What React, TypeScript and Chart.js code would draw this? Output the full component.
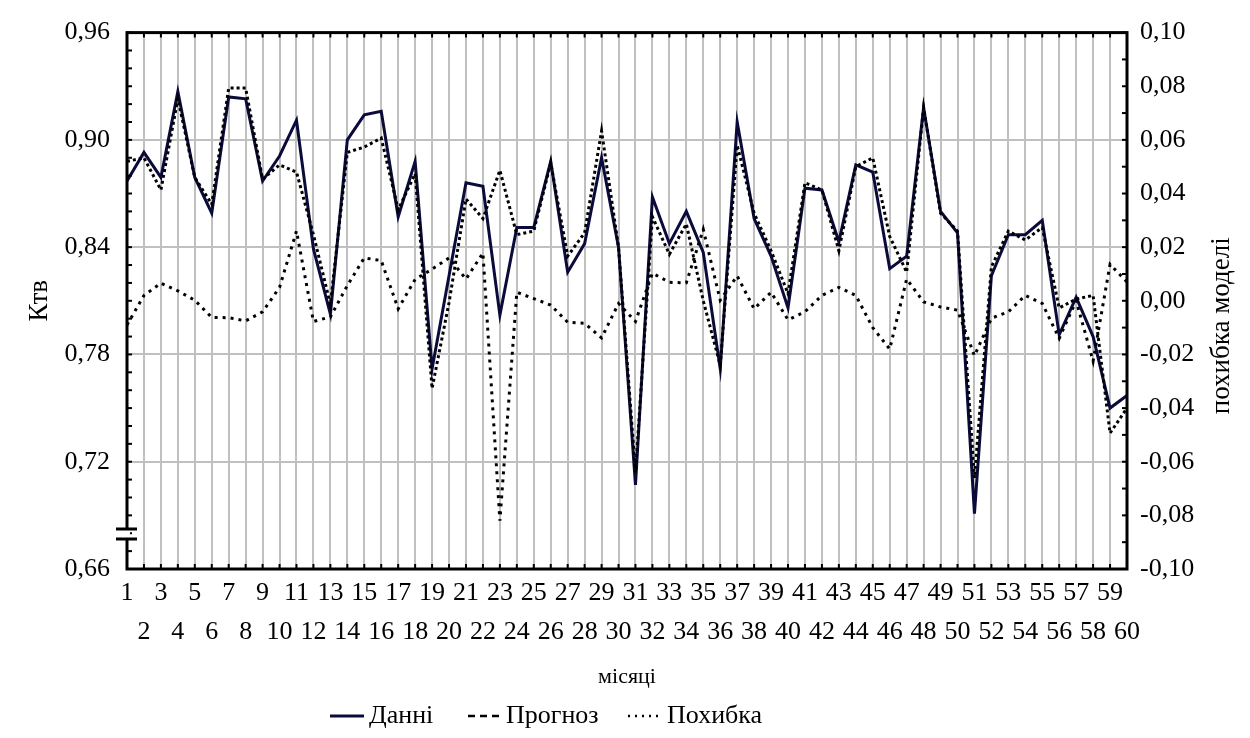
import React, { useEffect, useRef } from "react";
import { Chart, registerables } from "chart.js";

Chart.register(...registerables);

const months = [
  1, 2, 3, 4, 5, 6, 7, 8, 9, 10, 11, 12, 13, 14, 15, 16, 17, 18, 19, 20,
  21, 22, 23, 24, 25, 26, 27, 28, 29, 30, 31, 32, 33, 34, 35, 36, 37, 38, 39, 40,
  41, 42, 43, 44, 45, 46, 47, 48, 49, 50, 51, 52, 53, 54, 55, 56, 57, 58, 59, 60,
];

const dani = [
  0.877, 0.893, 0.879, 0.927, 0.879, 0.859, 0.924, 0.923, 0.877, 0.891,
  0.911, 0.839, 0.8025, 0.9, 0.914, 0.916, 0.857, 0.888, 0.772, 0.824,
  0.876, 0.874, 0.802, 0.851, 0.851, 0.888, 0.826, 0.842, 0.89, 0.84,
  0.707, 0.868, 0.842, 0.86, 0.837, 0.772, 0.91, 0.856, 0.835, 0.806,
  0.873, 0.872, 0.843, 0.886, 0.882, 0.828, 0.835, 0.918, 0.86, 0.848,
  0.691, 0.824, 0.847, 0.847, 0.855, 0.791, 0.812, 0.79, 0.75, 0.757,
];

const prognoz = [
  0.888, 0.89, 0.872, 0.923, 0.879, 0.864, 0.929, 0.929, 0.878, 0.886,
  0.882, 0.847, 0.808, 0.893, 0.896, 0.901, 0.861, 0.881, 0.761, 0.809,
  0.867, 0.856, 0.883, 0.847, 0.849, 0.887, 0.835, 0.848, 0.905, 0.84,
  0.714, 0.857, 0.836, 0.853, 0.81, 0.774, 0.897, 0.859, 0.838, 0.814,
  0.876, 0.872, 0.838, 0.885, 0.89, 0.846, 0.826, 0.918, 0.859, 0.849,
  0.711, 0.829, 0.849, 0.844, 0.851, 0.806, 0.811, 0.813, 0.736, 0.75,
];

const pohybka = [
  -0.009, 0.002, 0.0066, 0.0037, 0.0002, -0.0062, -0.0063, -0.0075, -0.0041, 0.005,
  0.026, -0.0077, -0.006, 0.0057, 0.016, 0.015, -0.003, 0.008, 0.0118, 0.016,
  0.0081, 0.0178, -0.082, 0.0032, 0.0008, -0.0016, -0.008, -0.0084, -0.0138, -0.001,
  -0.0077, 0.0103, 0.0069, 0.0067, 0.0266, 0.0002, 0.0093, -0.003, 0.0032, -0.0071,
  -0.0041, 0.002, 0.005, 0.002, -0.01, -0.018, 0.0081, -0.0004, -0.0023, -0.0035,
  -0.0205, -0.0065, -0.0041, 0.002, -0.001, -0.014, 0.0, -0.0225, 0.0136, 0.007,
];

const leftTicks = [0.66, 0.72, 0.78, 0.84, 0.9, 0.96];
const rightTicks = [-0.1, -0.08, -0.06, -0.04, -0.02, 0, 0.02, 0.04, 0.06, 0.08, 0.1];

const seriesNames = ["Данні", "Прогноз", "Похибка"];
const xTitle = "місяці";
const yTitle = "Ктв";
const y2Title = "похибка моделі";

const NAVY = "#0b0b3b";
const GRID = "#c0c0c0";
const FONT = "'Liberation Serif', 'Times New Roman', serif";

const fmt = (v: number) => {
  const s = Math.abs(v).toFixed(2).replace(".", ",");
  return v < -1e-9 ? "-" + s : s;
};

const decorPlugin = {
  id: "decor",
  afterDraw(chart: any) {
    const { ctx, chartArea } = chart;
    const { left, right, top, bottom } = chartArea;
    const yS = chart.scales.y;
    const y2S = chart.scales.y2;
    const xS = chart.scales.x;
    ctx.save();
    ctx.strokeStyle = "#000";
    ctx.setLineDash([]);

    // minor ticks left axis
    ctx.lineWidth = 2;
    for (let i = 0; i <= 30; i++) {
      const y = yS.getPixelForValue(0.66 + i * 0.01);
      ctx.beginPath();
      ctx.moveTo(left, y);
      ctx.lineTo(left + 5, y);
      ctx.stroke();
    }
    // minor ticks right axis
    for (let i = 0; i <= 20; i++) {
      const y = y2S.getPixelForValue(-0.1 + i * 0.01);
      ctx.beginPath();
      ctx.moveTo(right - 5, y);
      ctx.lineTo(right, y);
      ctx.stroke();
    }
    // ticks top / bottom
    for (let i = 0; i < months.length; i++) {
      const x = xS.getPixelForValue(i);
      ctx.beginPath();
      ctx.moveTo(x, top);
      ctx.lineTo(x, top + 5);
      ctx.moveTo(x, bottom);
      ctx.lineTo(x, bottom - 5);
      ctx.stroke();
    }

    // frame
    ctx.lineWidth = 3;
    ctx.strokeRect(left, top, right - left, bottom - top);

    // axis break symbol
    const b1 = 529;
    const b2 = 539;
    ctx.fillStyle = "#fff";
    ctx.fillRect(left - 3, b1, 6, b2 - b1);
    ctx.lineWidth = 3;
    ctx.beginPath();
    ctx.moveTo(left - 11, b1);
    ctx.lineTo(left + 10, b1);
    ctx.moveTo(left - 11, b2);
    ctx.lineTo(left + 10, b2);
    ctx.stroke();

    // axis titles
    ctx.fillStyle = "#000";
    ctx.textAlign = "center";
    ctx.textBaseline = "middle";
    ctx.font = `27px ${FONT}`;
    ctx.save();
    ctx.translate(40, (top + bottom) / 2);
    ctx.rotate(-Math.PI / 2);
    ctx.fillText(yTitle, 0, 0);
    ctx.restore();
    ctx.save();
    ctx.translate(1222, (top + bottom) / 2 + 25);
    ctx.rotate(-Math.PI / 2);
    ctx.fillText(y2Title, 0, 0);
    ctx.restore();

    ctx.font = `22px ${FONT}`;
    ctx.fillText(xTitle, (left + right) / 2, 677);

    // legend
    const ly = 716;
    ctx.font = `26px ${FONT}`;
    ctx.textAlign = "left";
    ctx.lineWidth = 3;
    ctx.strokeStyle = NAVY;
    ctx.beginPath();
    ctx.moveTo(330, ly);
    ctx.lineTo(364, ly);
    ctx.stroke();
    ctx.fillText(seriesNames[0], 369, ly);

    ctx.strokeStyle = "#000";
    ctx.lineWidth = 2.5;
    ctx.setLineDash([7, 5]);
    ctx.beginPath();
    ctx.moveTo(468, ly);
    ctx.lineTo(501, ly);
    ctx.stroke();
    ctx.setLineDash([]);
    ctx.fillText(seriesNames[1], 506, ly);

    ctx.setLineDash([2, 5]);
    ctx.beginPath();
    ctx.moveTo(628, ly);
    ctx.lineTo(663, ly);
    ctx.stroke();
    ctx.setLineDash([]);
    ctx.fillText(seriesNames[2], 667, ly);

    ctx.restore();
  },
};

export default function App() {
  const canvasRef = useRef<HTMLCanvasElement | null>(null);

  useEffect(() => {
    if (!canvasRef.current) return;
    const tickFont = { family: FONT, size: 26 };
    const chart = new Chart(canvasRef.current, {
      type: "line",
      data: {
        labels: months.map((m) => (m % 2 === 1 ? [String(m), ""] : ["", String(m)])),
        datasets: [
          {
            label: seriesNames[0],
            data: dani,
            yAxisID: "y",
            borderColor: NAVY,
            borderWidth: 3,
            pointRadius: 0,
            tension: 0,
            order: 3,
          },
          {
            label: seriesNames[1],
            data: prognoz,
            yAxisID: "y",
            borderColor: "#000",
            borderWidth: 3,
            borderDash: [3, 3],
            pointRadius: 0,
            tension: 0,
            order: 1,
          },
          {
            label: seriesNames[2],
            data: pohybka,
            yAxisID: "y2",
            borderColor: "#000",
            borderWidth: 3,
            borderDash: [3, 5],
            pointRadius: 0,
            tension: 0,
            order: 2,
          },
        ],
      },
      options: {
        animation: false,
        responsive: true,
        maintainAspectRatio: false,
        events: [],
        layout: { padding: { top: 22, left: 0, right: 0, bottom: 0 } },
        plugins: {
          legend: { display: false },
          title: { display: false },
          tooltip: { enabled: false },
        },
        scales: {
          x: {
            type: "category",
            offset: false,
            grid: { color: GRID, lineWidth: 2, drawTicks: false },
            border: { display: false },
            ticks: {
              autoSkip: false,
              maxRotation: 0,
              minRotation: 0,
              padding: 5,
              color: "#000",
              font: { ...tickFont, lineHeight: 1.5 },
            },
            afterFit: (s: any) => {
              s.height = 169;
            },
          },
          y: {
            position: "left",
            min: 0.66,
            max: 0.96,
            afterBuildTicks: (s: any) => {
              s.ticks = leftTicks.map((v) => ({ value: v }));
            },
            grid: { color: GRID, lineWidth: 2, drawTicks: false },
            border: { display: false },
            ticks: {
              padding: 17,
              color: "#000",
              font: tickFont,
              callback: (v: any) => fmt(Number(v)),
            },
            afterFit: (s: any) => {
              s.width = 127;
            },
          },
          y2: {
            position: "right",
            min: -0.1,
            max: 0.1,
            afterBuildTicks: (s: any) => {
              s.ticks = rightTicks.map((v) => ({ value: v }));
            },
            grid: { display: false, drawTicks: false },
            border: { display: false },
            ticks: {
              padding: 13,
              color: "#000",
              font: tickFont,
              callback: (v: any) => fmt(Number(v)),
            },
            afterFit: (s: any) => {
              s.width = 123;
            },
          },
        },
      },
      plugins: [decorPlugin],
    });
    return () => chart.destroy();
  }, []);

  return (
    <div style={{ position: "absolute", left: 0, top: 0, width: 1250, height: 738, background: "#fff" }}>
      <canvas ref={canvasRef} />
    </div>
  );
}
